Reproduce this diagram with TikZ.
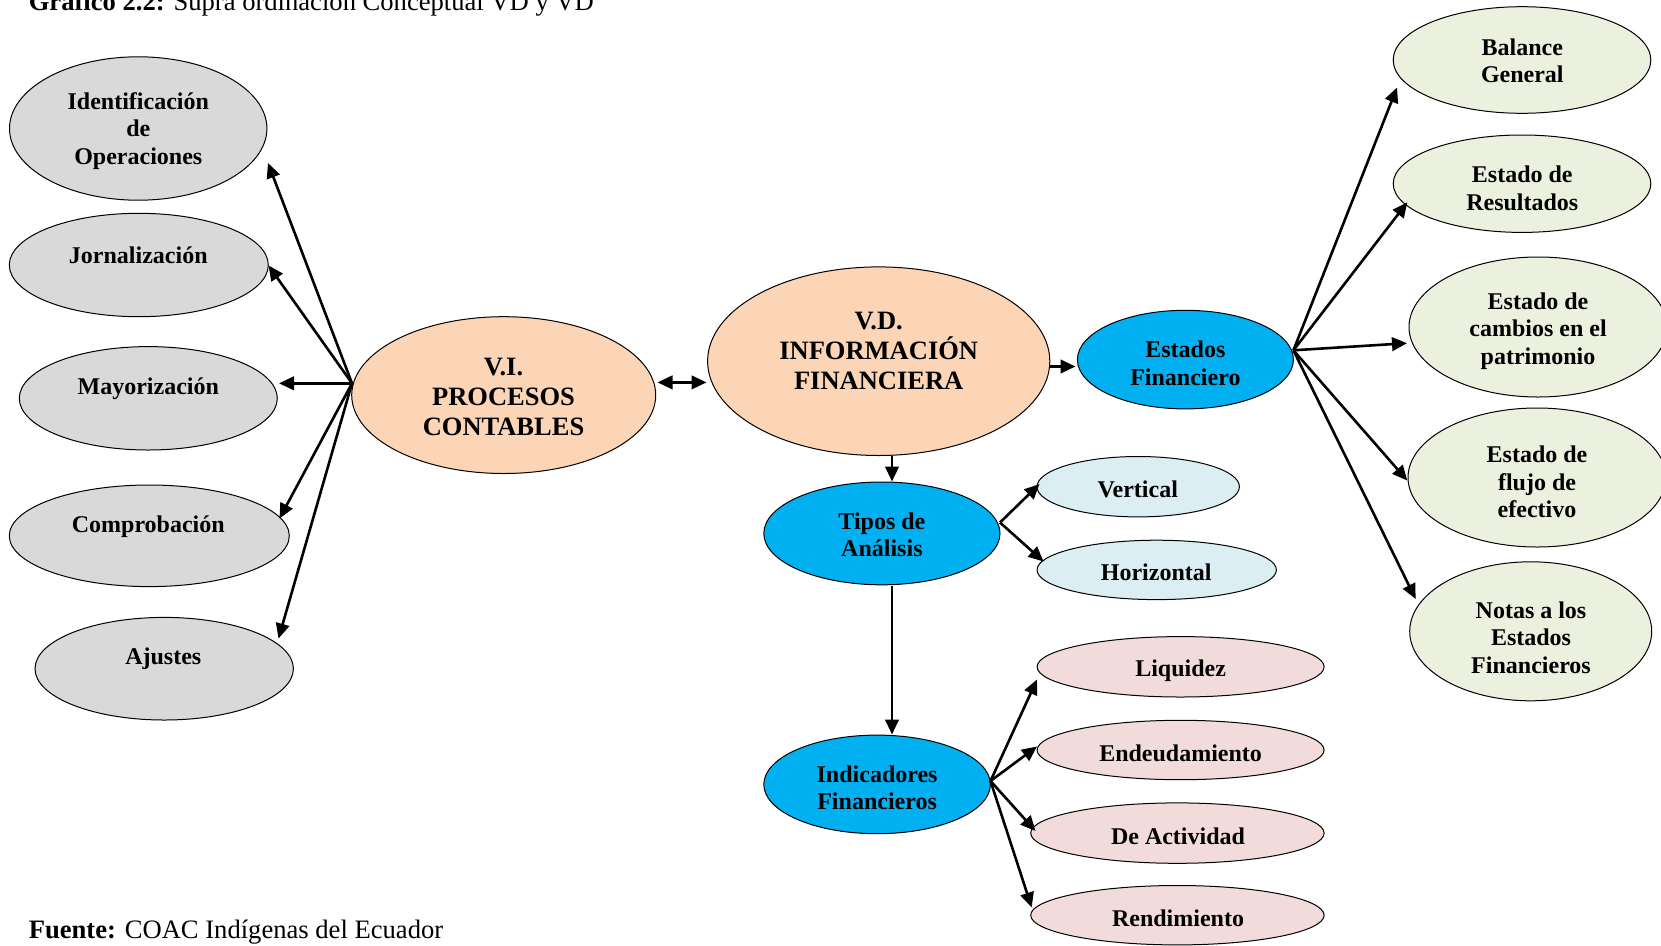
\documentclass[tikz,border=0pt]{standalone}
\usepackage{fontspec}
\setmainfont{Liberation Serif}
\usetikzlibrary{shapes.geometric,arrows.meta}
\definecolor{greyfill}{HTML}{D9D9D9}
\definecolor{peach}{HTML}{FBD5B5}
\definecolor{cyanfill}{HTML}{00B0F0}
\definecolor{paleblue}{HTML}{DBEEF3}
\definecolor{palepink}{HTML}{F2DCDB}
\definecolor{palegreen}{HTML}{EBF1DE}
\begin{document}
\begin{tikzpicture}[x=1pt,y=-1pt,
  ell/.style={ellipse, draw=black, line width=1pt, inner sep=0pt},
  txt/.style={align=center, font=\fontsize{24}{27.5}\selectfont\bfseries, inner sep=0pt},
  bigtxt/.style={align=center, font=\fontsize{26.5}{30}\selectfont\bfseries, inner sep=0pt},
  caption/.style={anchor=base west, inner sep=0pt, font=\fontsize{26.6}{30}\selectfont},
  tip/.tip={Triangle[length=15pt,width=13.5pt]},
  arr/.style={line width=2.6pt, -tip},
  dblarr/.style={line width=2.6pt, tip-tip},
]
\path[use as bounding box, clip] (0,0) rectangle (1661,945);
\fill[white] (0,0) rectangle (1661,945);

% captions
\node[caption] (title) at (28.6,10) {\textbf{Gráfico 2.2:} Supra ordinación Conceptual VD y VD};
\node[caption] (source) at (28.6,938) {\textbf{Fuente:} COAC Indígenas del Ecuador};

% accounting processes (left)
\node[ell, fill=greyfill, minimum width=257.4pt, minimum height=143.4pt] (ident) at (138.2,128.5) {};
\node[ell, fill=greyfill, minimum width=259pt, minimum height=103.4pt] (jorn) at (138.8,265) {};
\node[ell, fill=greyfill, minimum width=258pt, minimum height=103.4pt] (mayor) at (148.3,398.3) {};
\node[ell, fill=greyfill, minimum width=280pt, minimum height=101.6pt] (compr) at (149.3,535.8) {};
\node[ell, fill=greyfill, minimum width=258.4pt, minimum height=102.6pt] (ajust) at (164.2,668.7) {};
\node[txt] (ident-t) at (138.3,130.8) {Identificación\\de\\Operaciones};
\node[txt] (jorn-t) at (138.3,255) {Jornalización};
\node[txt] (mayor-t) at (148.3,388.3) {Mayorización};
\node[txt] (compr-t) at (148.3,526.7) {Comprobación};
\node[txt] (ajust-t) at (163.3,658.3) {Ajustes};

% variables
\node[ell, fill=peach, minimum width=304pt, minimum height=156.8pt] (vi) at (503.7,395.1) {};
\node[bigtxt] (vi-t) at (503.5,396.5) {V.I.\\PROCESOS\\CONTABLES};
\node[ell, fill=peach, minimum width=342.2pt, minimum height=188.6pt] (vd) at (878.7,361.2) {};
\node[bigtxt] (vd-t) at (878.7,350.6) {V.D.\\INFORMACIÓN\\FINANCIERA};

% blue hubs
\node[ell, fill=cyanfill, minimum width=216pt, minimum height=98.6pt] (estfin) at (1185.4,359.6) {};
\node[txt] (estfin-t) at (1185.4,363.3) {Estados\\Financiero};
\node[ell, fill=cyanfill, minimum width=236.2pt, minimum height=102.8pt] (tipos) at (881.9,533.4) {};
\node[txt] (tipos-t) at (881.9,535) {Tipos de\\Análisis};
\node[ell, fill=cyanfill, minimum width=226.6pt, minimum height=98.6pt] (indic) at (877.1,784.4) {};
\node[txt] (indic-t) at (877.1,787.6) {Indicadores\\Financieros};

% analysis types
\node[ell, fill=paleblue, minimum width=202.4pt, minimum height=60.4pt] (vert) at (1138.2,486.7) {};
\node[txt] (vert-t) at (1137.7,489.4) {Vertical};
\node[ell, fill=paleblue, minimum width=239.4pt, minimum height=59.4pt] (horiz) at (1156.7,569.9) {};
\node[txt] (horiz-t) at (1156.2,572) {Horizontal};

% financial indicators
\node[ell, fill=palepink, minimum width=287pt, minimum height=60.4pt] (liq) at (1180.6,666.8) {};
\node[txt] (liq-t) at (1180.6,670.5) {Liquidez};
\node[ell, fill=palepink, minimum width=287pt, minimum height=59.4pt] (endeu) at (1180.6,750) {};
\node[txt] (endeu-t) at (1180.6,753.2) {Endeudamiento};
\node[ell, fill=palepink, minimum width=293.4pt, minimum height=60.4pt] (activ) at (1177.4,833.1) {};
\node[txt] (activ-t) at (1178,835.8) {De Actividad};
\node[ell, fill=palepink, minimum width=293.4pt, minimum height=59.4pt] (rend) at (1177.4,915.2) {};
\node[txt] (rend-t) at (1178,918.4) {Rendimiento};

% financial statements
\node[ell, fill=palegreen, minimum width=257.6pt, minimum height=106.6pt] (balance) at (1522,60) {};
\node[txt] (balance-t) at (1522.3,60.8) {Balance\\General};
\node[ell, fill=palegreen, minimum width=257.6pt, minimum height=97.4pt] (result) at (1522,183.7) {};
\node[txt] (result-t) at (1522.3,188.3) {Estado de\\Resultados};
\node[ell, fill=palegreen, minimum width=258pt, minimum height=140pt] (cambios) at (1538,327) {};
\node[txt] (cambios-t) at (1538,331) {Estado de\\cambios en el\\patrimonio};
\node[ell, fill=palegreen, minimum width=258pt, minimum height=139pt] (flujo) at (1537,477.5) {};
\node[txt] (flujo-t) at (1537,482) {Estado de\\flujo de\\efectivo};
\node[ell, fill=palegreen, minimum width=242pt, minimum height=139pt] (notas) at (1530.7,631.3) {};
\node[txt] (notas-t) at (1531,637.5) {Notas a los\\Estados\\Financieros};

% connector end points
\coordinate (vi-fan) at (352,383.3);
\coordinate (ident-in) at (268,163);
\coordinate (jorn-in) at (268.5,265.5);
\coordinate (mayor-in) at (279,383.3);
\coordinate (compr-in) at (279.5,518.5);
\coordinate (ajust-in) at (278.5,638.5);
\coordinate (vi-out) at (657.5,382.4);
\coordinate (vd-in) at (706.5,382.4);
\coordinate (vd-east) at (1050,366.5);
\coordinate (estfin-in) at (1075.5,366.5);
\coordinate (vd-south) at (892,455.5);
\coordinate (tipos-in) at (892,481.5);
\coordinate (tipos-south) at (892,585.5);
\coordinate (indic-in) at (892,734.5);
\coordinate (tipos-fan) at (1000,522.5);
\coordinate (vert-in) at (1039.5,484);
\coordinate (horiz-in) at (1043.5,561.5);
\coordinate (indic-fan) at (990.5,781);
\coordinate (liq-in) at (1037,679.5);
\coordinate (endeu-in) at (1037,746.5);
\coordinate (activ-in) at (1035.5,831);
\coordinate (rend-in) at (1031.7,907.5);
\coordinate (estfin-fan) at (1293.4,350.3);
\coordinate (balance-in) at (1397,87.5);
\coordinate (result-in) at (1407.3,202.3);
\coordinate (cambios-in) at (1407,343.2);
\coordinate (flujo-in) at (1407.3,480.5);
\coordinate (notas-in) at (1415.6,599);

% connectors
\foreach \t in {ident-in,jorn-in,mayor-in,compr-in,ajust-in}
  \draw[arr] (vi-fan) -- (\t);
\draw[dblarr] (vi-out) -- (vd-in);
\draw[arr] (vd-east) -- (estfin-in);
\draw[arr] (vd-south) -- (tipos-in);
\draw[arr] (tipos-south) -- (indic-in);
\foreach \t in {vert-in,horiz-in}
  \draw[arr] (tipos-fan) -- (\t);
\foreach \t in {liq-in,endeu-in,activ-in,rend-in}
  \draw[arr] (indic-fan) -- (\t);
\foreach \t in {balance-in,result-in,cambios-in,flujo-in,notas-in}
  \draw[arr] (estfin-fan) -- (\t);
\end{tikzpicture}
\end{document}
